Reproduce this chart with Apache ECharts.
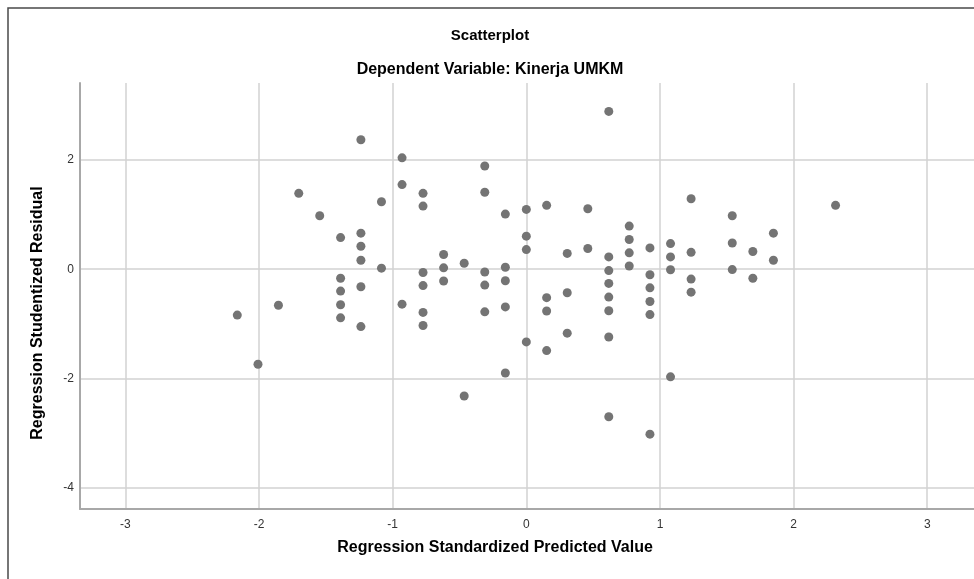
<!DOCTYPE html>
<html>
<head>
<meta charset="utf-8">
<script src="https://cdn.jsdelivr.net/npm/echarts@6/dist/echarts.min.js"></script>
<style>
  html, body { margin: 0; padding: 0; background: #ffffff; }
  #chart { width: 974px; height: 579px; }
</style>
</head>
<body>
<div id="chart"></div>
<script>
// Regression Standardized Predicted Value (x)
var predicted = [
  -2.163, -2.008, -1.855, -1.703, -1.546,
  -1.39, -1.39, -1.39, -1.39, -1.39,
  -1.238, -1.238, -1.238, -1.238, -1.238, -1.238,
  -1.084, -1.084,
  -0.93, -0.93, -0.93,
  -0.773, -0.773, -0.773, -0.773, -0.773, -0.773,
  -0.619, -0.619, -0.619,
  -0.465, -0.465,
  -0.311, -0.311, -0.311, -0.311, -0.311,
  -0.157, -0.157, -0.157, -0.157, -0.157,
  0, 0, 0, 0,
  0.152, 0.152, 0.152, 0.152,
  0.306, 0.306, 0.306,
  0.46, 0.46,
  0.617, 0.617, 0.617, 0.617, 0.617, 0.617, 0.617, 0.617,
  0.77, 0.77, 0.77, 0.77,
  0.925, 0.925, 0.925, 0.925, 0.925, 0.925,
  1.079, 1.079, 1.079, 1.079,
  1.233, 1.233, 1.233, 1.233,
  1.541, 1.541, 1.541,
  1.695, 1.695,
  1.849, 1.849,
  2.314
];
// Regression Studentized Residual (y)
var residual = [
  -0.84, -1.74, -0.66, 1.39, 0.98,
  0.58, -0.165, -0.40, -0.65, -0.89,
  2.37, 0.66, 0.42, 0.165, -0.32, -1.05,
  1.235, 0.02,
  2.04, 1.55, -0.64,
  1.39, 1.156, -0.06, -0.30, -0.79, -1.03,
  0.27, 0.025, -0.215,
  0.11, -2.32,
  1.89, 1.41, -0.05, -0.29, -0.78,
  1.01, 0.037, -0.21, -0.69, -1.90,
  1.095, 0.606, 0.36, -1.33,
  1.17, -0.52, -0.765, -1.49,
  0.29, -0.43, -1.17,
  1.107, 0.38,
  2.89, 0.226, -0.025, -0.26, -0.51, -0.76, -1.24, -2.70,
  0.79, 0.545, 0.30, 0.06,
  0.39, -0.10, -0.34, -0.59, -0.83, -3.02,
  0.47, 0.226, -0.01, -1.97,
  1.29, 0.31, -0.18, -0.42,
  0.98, 0.48, -0.006,
  0.325, -0.165,
  0.66, 0.165,
  1.17
];
var xTicks = [-3, -2, -1, 0, 1, 2, 3];
var yTicks = [-4, -2, 0, 2];
var chartTitle = 'Scatterplot';
var chartSubtitle = 'Dependent Variable: Kinerja UMKM';
var xName = 'Regression Standardized Predicted Value';
var yName = 'Regression Studentized Residual';

var points = predicted.map(function (v, i) { return [v, residual[i]]; });

var chart = echarts.init(document.getElementById('chart'), null, { renderer: 'canvas' });
var fontFam = '"Liberation Sans", Arial, sans-serif';
chart.setOption({
  backgroundColor: '#ffffff',
  animation: false,
  grid: { left: 80, right: -3, top: 83, bottom: 70, containLabel: false },
  graphic: [
    { type: 'rect', shape: { x: 8, y: 8, width: 1000, height: 620 }, style: { fill: 'none', stroke: '#4a4a4a', lineWidth: 1.5 }, z: 0, silent: true },
    { type: 'text', x: 490, y: 36, style: { text: chartTitle, font: 'bold 15px ' + fontFam, fill: '#000', textAlign: 'center', textVerticalAlign: 'middle' } },
    { type: 'text', x: 490, y: 70, style: { text: chartSubtitle, font: 'bold 16px ' + fontFam, fill: '#000', textAlign: 'center', textVerticalAlign: 'middle' } },
    { type: 'text', x: 495, y: 548, style: { text: xName, font: 'bold 16px ' + fontFam, fill: '#000', textAlign: 'center', textVerticalAlign: 'middle' } },
    { type: 'text', x: 38, y: 313, rotation: Math.PI / 2, style: { text: yName, font: 'bold 16px ' + fontFam, fill: '#000', textAlign: 'center', textVerticalAlign: 'middle' } }
  ],
  xAxis: {
    type: 'value',
    min: -3.34,
    max: 3.35,
    axisLine: { show: true, onZero: false, lineStyle: { color: '#a8a8a8', width: 2 } },
    axisTick: { show: false, customValues: xTicks },
    axisLabel: { customValues: xTicks, color: '#333', fontSize: 12, fontFamily: fontFam, margin: 10 },
    splitLine: { show: true, lineStyle: { color: '#d2d2d2', width: 1.5 } }
  },
  yAxis: {
    type: 'value',
    min: -4.39,
    max: 3.41,
    axisLine: { show: true, onZero: false, lineStyle: { color: '#a8a8a8', width: 2 } },
    axisTick: { show: false, customValues: yTicks },
    axisLabel: { customValues: yTicks, color: '#333', fontSize: 12, fontFamily: fontFam, margin: 6 },
    splitLine: { show: true, lineStyle: { color: '#d2d2d2', width: 1.5 } }
  },
  series: [{
    type: 'scatter',
    data: points,
    symbol: 'circle',
    symbolSize: 9,
    itemStyle: { color: '#747474', opacity: 1 },
    silent: true,
    z: 5
  }]
});
</script>
</body>
</html>
